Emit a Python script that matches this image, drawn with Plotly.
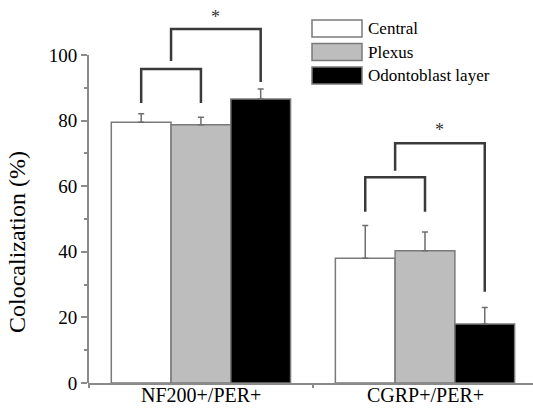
import plotly.graph_objects as go

categories = ["NF200+/PER+", "CGRP+/PER+"]
series_names = ["Central", "Plexus", "Odontoblast layer"]
central = [79.5, 38.0]
plexus = [78.7, 40.3]
odonto = [86.6, 18.0]
central_err = [2.6, 10.0]
plexus_err = [2.3, 5.7]
odonto_err = [3.0, 5.0]
y_ticks = [0, 20, 40, 60, 80, 100]
y_minor = [10, 30, 50, 70, 90]

# significance brackets per group: inner(bottom, top), outer(stem bottom, top, right bottom), asterisk y
inner_bottom = [85.4, 52.2]
inner_top = [95.7, 62.7]
outer_stem_bottom = [98.2, 64.7]
outer_top = [107.9, 73.1]
outer_right_bottom = [91.8, 27.8]
star_y = [111.6, 77.1]

FONT = "Liberation Serif, Times New Roman, serif"
fills = ["#ffffff", "#bdbdbd", "#000000"]
values = [central, plexus, odonto]
errs = [central_err, plexus_err, odonto_err]

fig = go.Figure()
for name, v, e, c in zip(series_names, values, errs, fills):
    fig.add_trace(go.Bar(
        name=name, x=categories, y=v,
        marker=dict(color=c, line=dict(color="#7a7a7a", width=1.5)),
        error_y=dict(type="data", symmetric=False, array=e, arrayminus=[0] * len(e),
                     color="#6e6e6e", thickness=1.5, width=3),
        showlegend=False,
    ))

W, H = 533, 408
ml, mr, mt, mb = 88, 0, 0, 25
pw, ph = W - ml - mr, H - mt - mb
XR = [-0.504, 1.482]
YR = [0, 116.77]
def px2x(px):
    return (px - ml) / pw
def py2y(py):
    return 1 - (py - mt) / ph

bargap = 0.2
bw = (1 - bargap) / 3
shapes = []
annotations = []
lc = "#3a3a3a"
lw = 2.5
for g in range(len(categories)):
    xc = g - bw
    xp = g
    xo = g + bw
    shapes.append(dict(type="path", xref="x", yref="y",
                       path=f"M {xc} {inner_bottom[g]} L {xc} {inner_top[g]} L {xp} {inner_top[g]} L {xp} {inner_bottom[g]}",
                       line=dict(color=lc, width=lw)))
    xm = (xc + xp) / 2
    shapes.append(dict(type="path", xref="x", yref="y",
                       path=f"M {xm} {outer_stem_bottom[g]} L {xm} {outer_top[g]} L {xo} {outer_top[g]} L {xo} {outer_right_bottom[g]}",
                       line=dict(color=lc, width=lw)))
    annotations.append(dict(x=(xm + xo) / 2, y=star_y[g], xref="x", yref="y", text="*",
                            showarrow=False, font=dict(family=FONT, size=18, color="#333")))
    annotations.append(dict(x=g, y=py2y(395), xref="x", yref="paper", text=categories[g],
                            showarrow=False, xanchor="center", yanchor="middle",
                            font=dict(family=FONT, size=20, color="black")))

shapes.append(dict(type="line", xref="paper", yref="y", x0=0, x1=0, y0=0, y1=100,
                   line=dict(color="#8a8a8a", width=2)))

leg_tops = [20, 43.5, 67]
for i, (name, c) in enumerate(zip(series_names, fills)):
    shapes.append(dict(type="rect", xref="paper", yref="paper",
                       x0=px2x(312), x1=px2x(362), y0=py2y(leg_tops[i] + 17), y1=py2y(leg_tops[i]),
                       fillcolor=c, line=dict(color="#7a7a7a", width=1.5)))
    annotations.append(dict(x=px2x(366), y=py2y(leg_tops[i] + 8.5), xref="paper", yref="paper",
                            text=name, showarrow=False, xanchor="left", yanchor="middle",
                            font=dict(family=FONT, size=17, color="black")))

annotations.append(dict(x=px2x(17), y=py2y(242), xref="paper", yref="paper",
                        text="Colocalization (%)", textangle=-90, showarrow=False,
                        xanchor="center", yanchor="middle",
                        font=dict(family=FONT, size=24, color="black")))

fig.update_layout(
    width=W, height=H,
    margin=dict(l=ml, r=mr, t=mt, b=mb, pad=0),
    barmode="group", bargap=bargap, bargroupgap=0,
    plot_bgcolor="white", paper_bgcolor="white",
    font=dict(family=FONT, size=19, color="black"),
    shapes=shapes, annotations=annotations,
    showlegend=False,
)
fig.update_xaxes(range=XR, showline=True, linecolor="#8a8a8a", linewidth=2,
                 ticks="outside", tickson="boundaries", ticklen=3, tickwidth=1.5, tickcolor="#8a8a8a",
                 showgrid=False, zeroline=False, showticklabels=False)
fig.update_yaxes(range=YR, tickvals=y_ticks, ticks="outside", ticklen=6, tickwidth=1.5,
                 tickcolor="#8a8a8a", showgrid=False, zeroline=False, showline=False,
                 minor=dict(tickvals=y_minor, ticks="outside", ticklen=3, tickwidth=1.5, tickcolor="#8a8a8a"),
                 tickfont=dict(family=FONT, size=19))

fig.write_html("out.html", config={"displayModeBar": False},
               post_script="document.body.style.margin='0px';document.body.style.padding='0px';")
